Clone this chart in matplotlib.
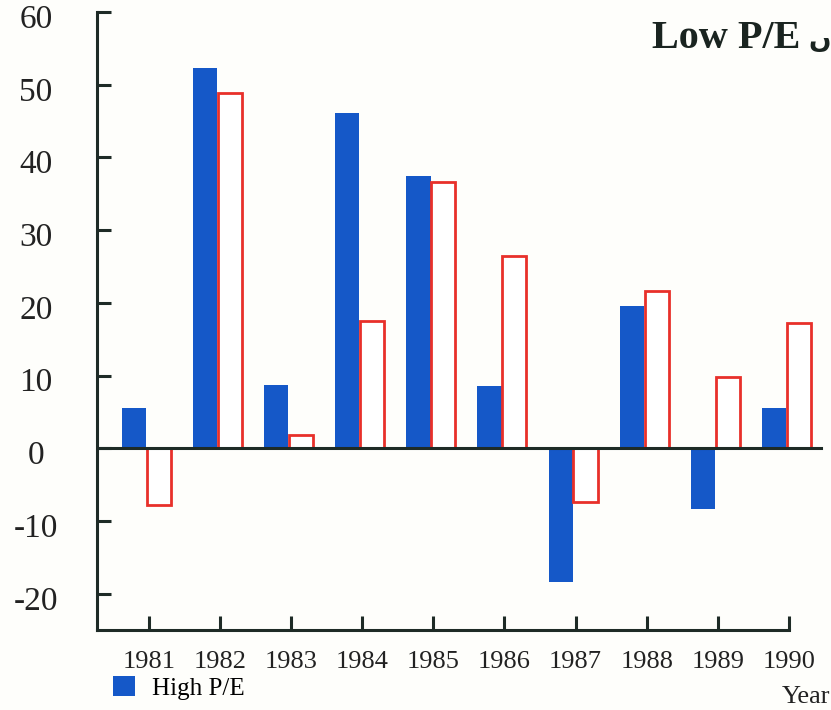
import matplotlib
matplotlib.use("Agg")
import matplotlib.pyplot as plt
import matplotlib.transforms as mtrans
import numpy as np

# data
years = ['1981', '1982', '1983', '1984', '1985', '1986', '1987', '1988', '1989', '1990']
high_pe = [5.6, 52.3, 8.7, 46.1, 37.4, 8.5, -18.4, 19.5, -8.3, 5.6]
low_pe = [-7.8, 48.8, 1.8, 17.5, 36.6, 26.4, -7.4, 21.6, 9.8, 17.2]
yticks = [-20, -10, 0, 10, 20, 30, 40, 50, 60]

plt.rcParams['axes.unicode_minus'] = False
plt.rcParams['font.family'] = ['Liberation Serif', 'DejaVu Sans']

dark = '#1e2b26'
blue = '#1558c8'
red = '#e8302a'

fig = plt.figure(figsize=(8.31, 7.10), dpi=100)
fig.patch.set_facecolor('#fefefb')
ax = fig.add_axes([97/831, 80/710, 731/831, 618/710])
ax.set_facecolor('#fefefb')

x = np.arange(len(years))
b1 = ax.bar(x - 0.21, high_pe, width=0.34, color=blue, label='High P/E', zorder=2)
b2 = ax.bar(x + 0.14, low_pe, width=0.34, facecolor='white', edgecolor=red,
            linewidth=2.0, label='Low P/E', zorder=2)
ax.axhline(0, color=dark, lw=2.2, xmax=0.99, zorder=3)

ax.set_xlim(-0.73, 9.55)
ax.set_ylim(-25, 60)

for s in ['top', 'right']:
    ax.spines[s].set_visible(False)
for s in ['left', 'bottom']:
    ax.spines[s].set_color(dark)
    ax.spines[s].set_linewidth(2.2)
ax.spines['bottom'].set_bounds(-0.73, 9)

ax.set_yticks(yticks)
ax.set_yticklabels([str(v) for v in yticks], fontsize=24, color='#222222')
ax.tick_params(axis='y', direction='in', length=10, width=2.2, color=dark, pad=44)
# labels sit a little below their ticks in the scan
off = mtrans.ScaledTranslation(0, -3/72, fig.dpi_scale_trans)
for lab in ax.get_yticklabels():
    lab.set_horizontalalignment('center')
    lab.set_transform(lab.get_transform() + off)

ax.set_xticks(x)
ax.set_xticklabels(years, fontsize=19, color='#222222')
ax.tick_params(axis='x', direction='in', length=10, width=2.2, color=dark, pad=15)

fig.text(800/831, (710 - 48) / 710, 'Low P/E', ha='right', va='baseline',
         fontsize=29, fontweight='bold', color='#1a2420')
fig.text(1.0, (710 - 48) / 710, '\u06ba', ha='right', va='baseline',
         fontsize=19, fontweight='bold', color='#1a2420', family='DejaVu Sans')
fig.text(806/831, 13/710, 'Year', ha='center', va='center', fontsize=19, color='#222222')

fig.legend(handles=[b1], labels=['High P/E'], loc='lower left',
           bbox_to_anchor=(100/831, -2/710), frameon=False, fontsize=18,
           borderpad=0, handlelength=0.9, handleheight=0.9, handletextpad=0.7)

plt.savefig('out.png', dpi=100)
